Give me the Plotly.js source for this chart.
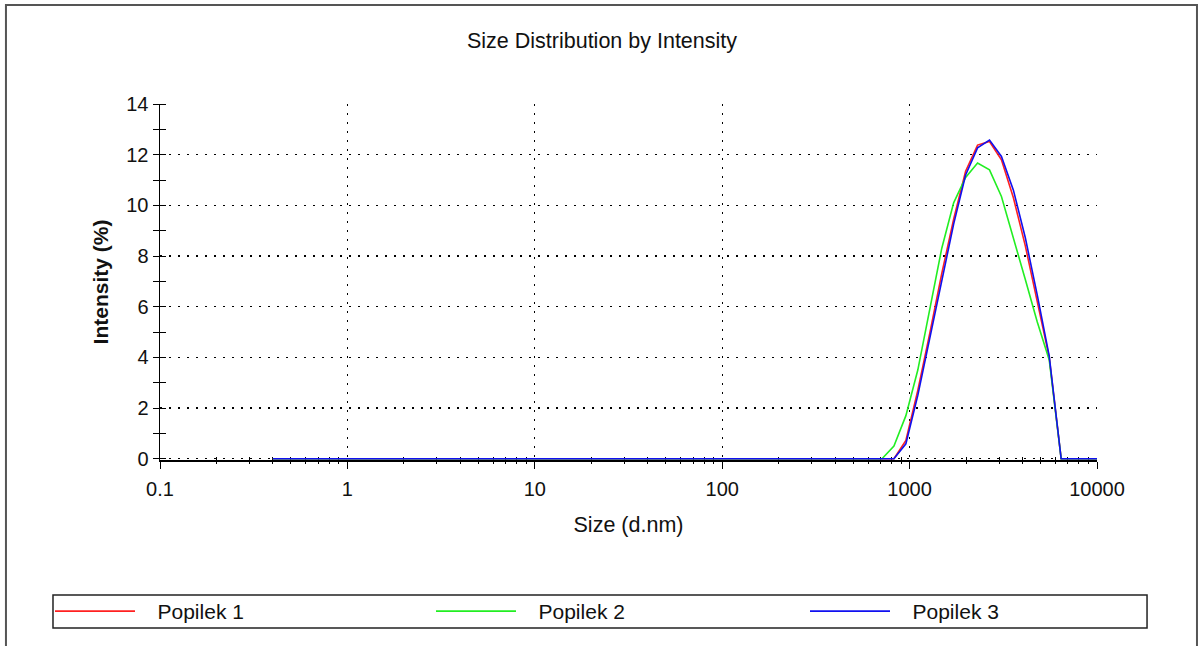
<!DOCTYPE html>
<html>
<head>
<meta charset="utf-8">
<script src="https://cdn.plot.ly/plotly-3.0.1.min.js"></script>
<style>
html,body{margin:0;padding:0;background:#fff;}
#chart{width:1204px;height:646px;}
</style>
</head>
<body>
<div id="chart"></div>
<script>
// Size bins (d.nm)
const sizes = [0.4, 0.4632, 0.5365, 0.6213, 0.7195, 0.8332, 0.9649, 1.117, 1.294, 1.499,
  1.736, 2.01, 2.328, 2.696, 3.122, 3.615, 4.187, 4.849, 5.615, 6.503,
  7.531, 8.721, 10.1, 11.7, 13.54, 15.69, 18.17, 21.04, 24.36, 28.21,
  32.67, 37.84, 43.82, 50.75, 58.77, 68.06, 78.82, 91.28, 105.7, 122.4,
  141.8, 164.2, 190.1, 220.2, 255.0, 295.3, 342.0, 396.1, 458.7, 531.2,
  615.1, 712.4, 825.0, 955.4, 1106, 1281, 1484, 1718, 1990, 2305,
  2669, 3091, 3580, 4145, 4801, 5560, 6439, 7456, 8635, 10000];

// Intensity (%) per bin
const popilek1 = [0,0,0,0,0,0,0,0,0,0, 0,0,0,0,0,0,0,0,0,0,
  0,0,0,0,0,0,0,0,0,0, 0,0,0,0,0,0,0,0,0,0,
  0,0,0,0,0,0,0,0,0,0, 0,0,0,0.72,2.7,4.95,7.3,9.45,11.35,12.38,
  12.52,11.8,10.3,8.4,6.2,4.0,0,0,0,0];
const popilek2 = [0,0,0,0,0,0,0,0,0,0, 0,0,0,0,0,0,0,0,0,0,
  0,0,0,0,0,0,0,0,0,0, 0,0,0,0,0,0,0,0,0,0,
  0,0,0,0,0,0,0,0,0,0, 0,0,0.5,1.7,3.5,5.85,8.3,10.1,11.1,11.67,
  11.4,10.35,8.75,7.07,5.4,3.9,0,0,0,0];
const popilek3 = [0,0,0,0,0,0,0,0,0,0, 0,0,0,0,0,0,0,0,0,0,
  0,0,0,0,0,0,0,0,0,0, 0,0,0,0,0,0,0,0,0,0,
  0,0,0,0,0,0,0,0,0,0, 0,0,0,0.59,2.5,4.75,7.06,9.26,11.2,12.27,
  12.58,11.93,10.6,8.72,6.46,4.05,0,0,0,0];

const seriesNames = ['Popilek 1', 'Popilek 2', 'Popilek 3'];
const seriesColors = ['#ff2020', '#22ee22', '#1010f0'];

const xTickVals = [0.1, 1, 10, 100, 1000, 10000];
const xTickText = ['0.1', '1', '10', '100', '1000', '10000'];

const minorX = [];
for (let e = -1; e < 4; e++) {
  for (let k = 2; k <= 9; k++) minorX.push(k * Math.pow(10, e));
}

const FONT = 'Liberation Sans, Arial, sans-serif';
const allY = [popilek1, popilek2, popilek3];
const legendIds = ['legend', 'legend2', 'legend3'];
const PAD = '\u00a0\u00a0\u00a0';
const Y_RANGE = [-0.05, 14];

const traces = allY.map((ys, i) => ({
  type: 'scatter', mode: 'lines', x: sizes, y: ys, name: PAD + seriesNames[i],
  legend: legendIds[i],
  line: {color: seriesColors[i], width: 1.6}, xaxis: 'x', yaxis: 'y'
}));
// invisible helper trace so the overlay axes (crossing minor ticks) are drawn
traces.push({type: 'scatter', mode: 'lines', x: sizes, y: popilek3, xaxis: 'x2', yaxis: 'y2',
  showlegend: false, hoverinfo: 'skip', line: {width: 0, color: 'rgba(0,0,0,0)'}});

function legendAt(xPx) {
  return {
    orientation: 'h', xref: 'container', yref: 'container',
    x: xPx / 1204, xanchor: 'left', y: 1 - 611.5 / 646, yanchor: 'middle',
    borderwidth: 0, bgcolor: 'rgba(0,0,0,0)',
    font: {family: FONT, size: 21, color: '#111'}, itemwidth: 80
  };
}

const layout = {
  width: 1204, height: 646,
  margin: {l: 160, r: 107, t: 104, b: 186, autoexpand: false},
  paper_bgcolor: '#fff', plot_bgcolor: '#fff',
  font: {family: FONT, size: 20, color: '#111'},
  title: {text: 'Size Distribution by Intensity', font: {family: FONT, size: 21.5, color: '#111'},
    x: 0.5, xref: 'container', y: 0.937, yref: 'container', yanchor: 'middle'},
  xaxis: {
    type: 'log', range: [-1, 4], tickmode: 'array', tickvals: xTickVals, ticktext: xTickText,
    ticks: 'outside', ticklen: 7, tickwidth: 1, tickcolor: '#000', ticklabelstandoff: 3,
    showline: true, linecolor: '#000', linewidth: 1.5, layer: 'below traces',
    showgrid: true, gridcolor: '#000', gridwidth: 1.3, griddash: '2px,7px',
    zeroline: false, tickfont: {family: FONT, size: 20, color: '#111'},
    minor: {tickmode: 'array', tickvals: minorX, ticks: 'inside', ticklen: 3, tickcolor: '#000', showgrid: false},
    title: {text: 'Size (d.nm)', font: {family: FONT, size: 21.5, color: '#111'}, standoff: 18},
    automargin: false
  },
  yaxis: {
    range: Y_RANGE, tickmode: 'linear', dtick: 2, tick0: 0,
    ticks: 'outside', ticklen: 6, tickwidth: 1, tickcolor: '#000',
    showline: true, linecolor: '#000', linewidth: 1.5, layer: 'below traces',
    showgrid: true, gridcolor: '#000', gridwidth: 1.3, griddash: '2px,7px',
    zeroline: false, tickfont: {family: FONT, size: 20, color: '#111'},
    minor: {dtick: 1, tick0: 1, ticks: 'inside', ticklen: 6, tickcolor: '#000', showgrid: false},
    title: {text: '<b>Intensity (%)</b>', font: {family: FONT, size: 21, color: '#111'}, standoff: 12},
    automargin: false
  },
  xaxis2: {
    type: 'log', range: [-1, 4], overlaying: 'x', anchor: 'y2', side: 'bottom', layer: 'below traces',
    showticklabels: false, showgrid: false, showline: false, zeroline: false, ticks: '',
    tickmode: 'array', tickvals: xTickVals,
    minor: {tickmode: 'array', tickvals: minorX, ticks: 'outside', ticklen: 3, tickcolor: '#000', showgrid: false}
  },
  yaxis2: {
    range: Y_RANGE, overlaying: 'y', anchor: 'x2', side: 'left', layer: 'below traces',
    showticklabels: false, showgrid: false, showline: false, zeroline: false, ticks: '', dtick: 2,
    minor: {dtick: 1, tick0: 1, ticks: 'outside', ticklen: 6, tickcolor: '#000', showgrid: false}
  },
  showlegend: true,
  legend: legendAt(50),
  legend2: legendAt(431),
  legend3: legendAt(805),
  shapes: [{
    type: 'rect', xref: 'paper', yref: 'paper',
    x0: -0.1644, x1: 1.1067, y0: -0.56, y1: 1.2781,
    line: {color: '#555', width: 2}, fillcolor: 'rgba(0,0,0,0)', layer: 'below'
  }, {
    // legend frame
    type: 'rect', xref: 'paper', yref: 'paper',
    x0: -0.1142, x1: 1.0534, y0: -0.4719, y1: -0.3792,
    line: {color: '#222', width: 1.5}, fillcolor: 'rgba(0,0,0,0)', layer: 'below'
  }]
};

Plotly.newPlot('chart', traces, layout, {staticPlot: true, displayModeBar: false});
</script>
</body>
</html>
